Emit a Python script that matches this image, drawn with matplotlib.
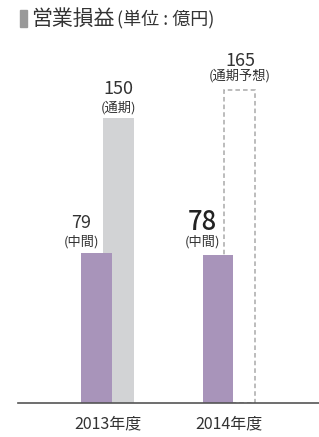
import matplotlib.pyplot as plt
from matplotlib.patches import Rectangle

plt.rcParams['font.family'] = ['Noto Sans CJK JP', 'DejaVu Sans']

# data
years = ['2013年度', '2014年度']
interim = [79, 78]
interim_labels = ['(中間)', '(中間)']
full_year = [150, 165]
full_labels = ['(通期)', '(通期予想)']

purple = '#a894ba'
gray = '#d2d3d5'
text_col = '#333333'

W, H = 319, 437
fig = plt.figure(figsize=(W / 100, H / 100), dpi=100)
ax = fig.add_axes([18 / W, 34 / H, (W - 18) / W, (H - 34) / H])

bw = 0.255
off = 0.0905
x = [0, 1]

# full-year bars (actual grey, forecast dashed) behind the interim bars
ax.bar(x[0] + off, full_year[0], width=bw, color=gray, zorder=1)
ax.bar(x[1] + off, full_year[1], width=bw, fill=False, edgecolor='#aaaaaa',
       linestyle=(0, (3, 2)), linewidth=1.1, zorder=1)
ax.bar([i - off for i in x], interim, width=bw, color=purple, zorder=2)

# value labels
for i in x:
    lx = i - off - bw / 2
    big = (i == 1)
    ax.annotate(str(interim[i]), (lx, interim[i]), xytext=(0, 32 if big else 29.5),
                textcoords='offset pixels', ha='center', va='center',
                fontsize=18.5 if big else 13, fontweight='medium' if big else 'normal',
                color='#222222' if big else text_col)
    ax.annotate(interim_labels[i], (lx, interim[i]), xytext=(0, 13 if big else 11),
                textcoords='offset pixels', ha='center', va='center',
                fontsize=9.5, color=text_col)
    fx = i + off
    ax.annotate(str(full_year[i]), (fx, full_year[i]), xytext=(0, 29),
                textcoords='offset pixels', ha='center', va='center',
                fontsize=13, color=text_col)
    ax.annotate(full_labels[i], (fx, full_year[i]), xytext=(0, 14 if i else 10),
                textcoords='offset pixels', ha='center', va='center',
                fontsize=9.5, color=text_col)

ax.set_xlim(-0.737, 1.741)
ax.set_ylim(0, 403 / 1.9)
ax.set_xticks(x)
ax.set_xticklabels(years, fontsize=11.5, color=text_col)
ax.tick_params(axis='x', length=0, pad=9)
ax.set_yticks([])
for s in ['top', 'right', 'left']:
    ax.spines[s].set_visible(False)
ax.spines['bottom'].set_color('#555555')
ax.spines['bottom'].set_linewidth(1.2)
ax.patch.set_alpha(0)

# title
fig.patches.append(Rectangle((20 / W, 1 - 27 / H), 7 / W, 17 / H,
                             transform=fig.transFigure, color='#999999'))
fig.text(31 / W, 1 - 18.5 / H, '営業損益', fontsize=15, color=text_col,
         va='center', ha='left')
fig.text(117 / W, 1 - 19.5 / H, '(単位 : 億円)', fontsize=13, color=text_col,
         va='center', ha='left')

fig.savefig('out.png', dpi=100)
